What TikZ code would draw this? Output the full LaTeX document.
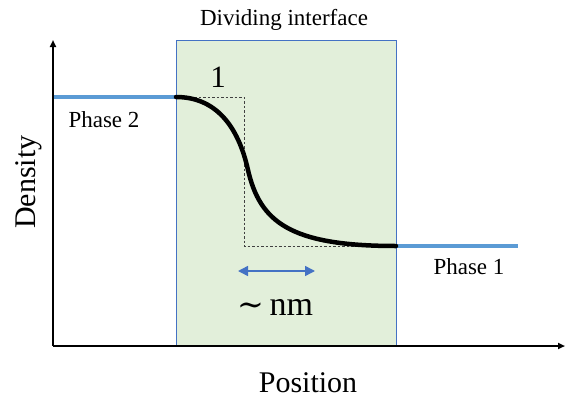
\documentclass[tikz,border=0pt]{standalone}
\usepackage{fontspec}
\setmainfont{Liberation Serif}
\newfontfamily\symfont{DejaVu Serif}
\usetikzlibrary{arrows.meta}
\definecolor{boxgreen}{HTML}{E2EFDA}
\definecolor{boxblue}{HTML}{4472C4}
\definecolor{phaseblue}{HTML}{5B9BD5}
\definecolor{dashgray}{HTML}{404040}
\tikzset{
  lbl/.style={anchor=base, inner sep=0pt, font=\fontsize{23}{26}\selectfont},
  axis/.style={line width=1.8pt, -{Triangle[length=7pt,width=6pt]}},
  phaseline/.style={phaseblue, line width=4pt},
  guide/.style={dashgray, line width=0.9pt, dash pattern=on 2.5pt off 2pt},
}
\begin{document}
\begin{tikzpicture}[x=1pt,y=-1pt]
\useasboundingbox (0,0) rectangle (565,402);
% interface box
\node (box) [draw=boxblue, fill=boxgreen, line width=1.4pt, inner sep=0pt,
  minimum width=220pt, minimum height=306pt, anchor=north west] at (176,40) {};
% coordinates
\coordinate (o) at (53,346);
\coordinate (ytop) at (53,40);
\coordinate (xend) at (565,346);
\coordinate (p2s) at (53,97);
\coordinate (cs) at (176,97);
\coordinate (cm) at (248,170);
\coordinate (ce) at (396,246);
\coordinate (p1e) at (518,246);
\coordinate (dtr) at (244,97);
\coordinate (dbr) at (244,246);
\coordinate (dend) at (413,246);
\coordinate (al) at (238,271);
\coordinate (ar) at (315,271);
% dashed guide
\draw[guide] (cs) -- (dtr) -- (dbr) -- (dend);
% phase lines
\draw[phaseline] (p2s) -- (cs);
\draw[phaseline] (ce) -- (p1e);
% density profile
\draw[line width=4.5pt, line cap=round] (cs) .. controls (215,97) and (238,125) .. (cm)
  .. controls (260,222) and (290,246) .. (ce);
% nm arrow
\draw[boxblue, line width=1.5pt, {Triangle[length=10pt,width=10pt]}-{Triangle[length=10pt,width=10pt]}] (al) -- (ar);
% axes
\draw[axis] (o) -- (ytop);
\draw[axis] (o) -- (xend);
% labels
\node (title) [lbl] at (284,25) {Dividing interface};
\node (one) [lbl, font=\fontsize{31}{34}\selectfont] at (218,87) {1};
\node (ph2) [lbl] at (104,127) {Phase 2};
\node (ph1) [lbl] at (469,274) {Phase 1};
\node (nm) [lbl, font=\fontsize{34}{38}\selectfont] at (275,315) {{\symfont\fontsize{32}{36}\selectfont ∼}\,nm};
\node (pos) [lbl, font=\fontsize{30}{34}\selectfont] at (308,392) {Position};
\node (dens) [anchor=base, inner sep=0pt, rotate=90, font=\fontsize{30}{34}\selectfont] at (35,182) {Density};
\end{tikzpicture}
\end{document}
